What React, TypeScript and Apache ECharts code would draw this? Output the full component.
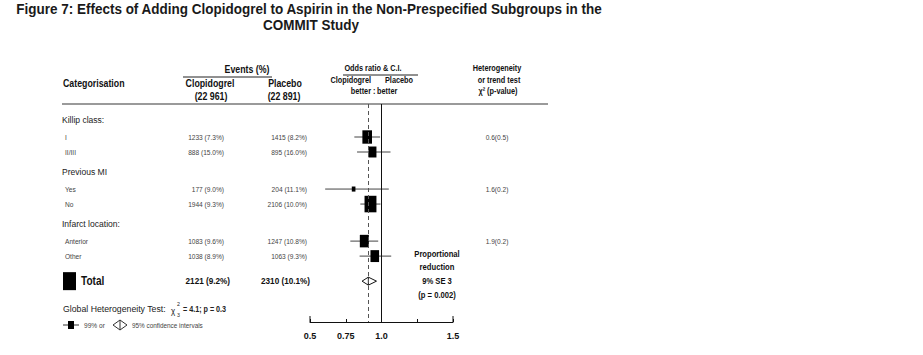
import React, { useEffect, useRef } from "react";
import * as echarts from "echarts";

// ---------- data ----------
const titleLines = [
  "Figure 7: Effects of Adding Clopidogrel to Aspirin in the Non-Prespecified Subgroups in the",
  "COMMIT Study",
];
const groupTitles = ["Killip class:", "Previous MI", "Infarct location:"];
const subgroupLabels = ["I", "II/III", "Yes", "No", "Anterior", "Other"];
const clopEvents = [1233, 888, 177, 1944, 1083, 1038];
const clopPct = ["7.3%", "15.0%", "9.0%", "9.3%", "9.6%", "8.9%"];
const placEvents = [1415, 895, 204, 2106, 1247, 1063];
const placPct = ["8.2%", "16.0%", "11.1%", "10.0%", "10.8%", "9.3%"];
const oddsRatio = [0.9, 0.937, 0.805, 0.923, 0.88, 0.953];
const ciLow = [0.81, 0.829, 0.606, 0.852, 0.782, 0.847];
const ciHigh = [0.99, 1.063, 1.051, 0.993, 0.977, 1.068];
const hetTests = ["0.6(0.5)", "1.6(0.2)", "1.9(0.2)"];
const totalClop = [2121, "9.2%"];
const totalPlac = [2310, "10.1%"];
const totalOR = [0.908, 0.864, 0.965]; // estimate, low, high
const reductionText = ["Proportional", "reduction", "9% SE 3", "(p = 0.002)"];
const axisTicks = [0.5, 0.75, 1.0, 1.25, 1.5];
const axisTickLabels = ["0.5", "0.75", "1.0", "", "1.5"];

// ---------- layout ----------
const FONT = "'Liberation Sans', Arial, sans-serif";
const GRID = { left: 310, width: 143, top: 104, height: 218 };
const Y_MIN = -1.2;
const UNIT = 15;
const Y_MAX = Y_MIN + GRID.height / UNIT;
const GROUP_STEP = 3.47;
const rowPos = (i: number) => Math.floor(i / 2) * GROUP_STEP + (i % 2) + 1;
const headerPos = (g: number) => g * GROUP_STEP - 0.15;
const totalPos = rowPos(5) + 1.67;
const py = (p: number) => GRID.top + (p - Y_MIN) * UNIT;

function txt(x: number, y: number, text: string, o: any = {}) {
  return {
    type: "text",
    x,
    y,
    scaleX: o.sx ?? 0.88,
    silent: true,
    style: {
      text,
      fontFamily: FONT,
      fontSize: o.size ?? 9,
      fontWeight: o.bold ? "bold" : "normal",
      fill: o.color ?? "#111",
      align: o.align ?? "left",
      textAlign: o.align ?? "left",
      verticalAlign: "middle",
      textVerticalAlign: "middle",
    },
  };
}

function buildGraphic() {
  const g: any[] = [];
  const H = { size: 10, bold: true, sx: 0.88 };
  const S = { size: 9.5, bold: true, sx: 0.77 };
  // title
  g.push(txt(309, 9, titleLines[0], { size: 15, bold: true, align: "center", sx: 0.9, color: "#1a1a1a" }));
  g.push(txt(311, 25, titleLines[1], { size: 15, bold: true, align: "center", sx: 0.9, color: "#1a1a1a" }));
  // headers
  g.push(txt(63, 83, "Categorisation", H));
  g.push(txt(247, 69, "Events (%)", { ...H, align: "center" }));
  g.push(txt(210, 83, "Clopidogrel", { ...H, align: "center" }));
  g.push(txt(211, 96, "(22 961)", { ...H, align: "center" }));
  g.push(txt(285, 83, "Placebo", { ...H, align: "center" }));
  g.push(txt(284, 96, "(22 891)", { ...H, align: "center" }));
  g.push(txt(373, 68, "Odds ratio & C.I.", { ...S, align: "center" }));
  g.push(txt(371, 80, "Clopidogrel", { ...S, align: "right" }));
  g.push(txt(385, 80, "Placebo", S));
  g.push(txt(371, 91, "better", { ...S, align: "right" }));
  g.push(txt(373, 91, ":", S));
  g.push(txt(377, 91, "better", S));
  g.push(txt(497, 68, "Heterogeneity", { ...S, align: "center" }));
  g.push(txt(499, 80, "or trend test", { ...S, align: "center" }));
  g.push(txt(498, 91, "\u03c7\u00b2 (p-value)", { ...S, align: "center" }));
  // underlines and rule
  g.push({ type: "line", silent: true, shape: { x1: 183, y1: 77, x2: 272, y2: 77 }, style: { stroke: "#222", lineWidth: 1 } });
  g.push({ type: "line", silent: true, shape: { x1: 343, y1: 75, x2: 418, y2: 75 }, style: { stroke: "#222", lineWidth: 1 } });
  g.push({ type: "line", silent: true, shape: { x1: 62, y1: 104, x2: 548, y2: 104 }, style: { stroke: "#9a9a9a", lineWidth: 2 } });
  // groups
  groupTitles.forEach((t, gi) => {
    g.push(txt(62, py(headerPos(gi)), t, { size: 9, color: "#222", sx: 0.95 }));
    g.push(txt(497, py(rowPos(gi * 2)), hetTests[gi], { size: 7.5, color: "#444", align: "center" }));
  });
  subgroupLabels.forEach((t, i) => {
    const y = py(rowPos(i));
    g.push(txt(65, y, t, { size: 7.5, color: "#444" }));
    g.push(txt(224, y, `${clopEvents[i]} (${clopPct[i]})`, { size: 7.5, color: "#444", align: "right" }));
    g.push(txt(307, y, `${placEvents[i]} (${placPct[i]})`, { size: 7.5, color: "#444", align: "right" }));
  });
  // total row
  const ty = py(totalPos);
  g.push({ type: "rect", silent: true, shape: { x: 63, y: ty - 9, width: 13, height: 18 }, style: { fill: "#000" } });
  g.push(txt(81, ty, "Total", { size: 12, bold: true, sx: 0.84 }));
  g.push(txt(230, ty, `${totalClop[0]} (${totalClop[1]})`, { size: 9.5, bold: true, align: "right", sx: 0.86 }));
  g.push(txt(310, ty, `${totalPlac[0]} (${totalPlac[1]})`, { size: 9.5, bold: true, align: "right", sx: 0.86 }));
  // proportional reduction
  [254, 267, 281, 295].forEach((y, i) =>
    g.push(txt(437, y, reductionText[i], { size: 9, bold: true, align: "center", sx: 0.85 }))
  );
  // global heterogeneity
  g.push(txt(63, 309, "Global Heterogeneity Test:", { size: 9, color: "#222", sx: 0.97 }));
  g.push(txt(171, 311, "\u03c7", { size: 9, color: "#222" }));
  g.push(txt(177, 304, "2", { size: 6, color: "#222" }));
  g.push(txt(177, 315, "3", { size: 6, color: "#222" }));
  g.push(txt(183, 309, "= 4.1; p = 0.3", { size: 9, bold: true, color: "#222", sx: 0.8 }));
  // legend
  g.push({ type: "line", silent: true, shape: { x1: 63, y1: 325, x2: 79, y2: 325 }, style: { stroke: "#333", lineWidth: 1 } });
  g.push({ type: "rect", silent: true, shape: { x: 68, y: 321, width: 6, height: 8 }, style: { fill: "#000" } });
  g.push(txt(84, 325, "99% or", { size: 7.5, color: "#444" }));
  g.push({ type: "polygon", silent: true, shape: { points: [[113, 325], [120, 320], [127, 325], [120, 330]] }, style: { fill: "#fff", stroke: "#333", lineWidth: 1 } });
  g.push({ type: "line", silent: true, shape: { x1: 120, y1: 320, x2: 120, y2: 330 }, style: { stroke: "#333", lineWidth: 1 } });
  g.push(txt(132, 325, "95% confidence intervals", { size: 7.5, color: "#444", sx: 0.85 }));
  return g;
}

export default function App() {
  const ref = useRef<HTMLDivElement>(null);
  useEffect(() => {
    if (!ref.current) return;
    const chart = echarts.init(ref.current, undefined, { renderer: "svg" });
    const rows = subgroupLabels.map((_, i) => [
      oddsRatio[i],
      rowPos(i),
      ciLow[i],
      ciHigh[i],
      clopEvents[i] + placEvents[i],
    ]);
    chart.setOption({
      animation: false,
      backgroundColor: "#fff",
      grid: { ...GRID, containLabel: false },
      xAxis: {
        type: "value",
        position: "bottom",
        min: axisTicks[0],
        max: axisTicks[axisTicks.length - 1],
        interval: 0.25,
        axisLine: { show: true, onZero: false, lineStyle: { color: "#111", width: 1 } },
        axisTick: { show: true, inside: true, length: 3, lineStyle: { color: "#111" } },
        splitLine: { show: false },
        axisLabel: {
          margin: 9,
          fontSize: 9,
          fontWeight: "bold",
          fontFamily: FONT,
          color: "#111",
          formatter: (v: number) => {
            const i = axisTicks.findIndex((t) => Math.abs(t - v) < 1e-6);
            return i >= 0 ? axisTickLabels[i] : "";
          },
        },
      },
      yAxis: { type: "value", inverse: true, min: Y_MIN, max: Y_MAX, show: false },
      graphic: buildGraphic(),
      series: [
        {
          type: "custom",
          name: "subgroups",
          data: rows,
          renderItem: (_p: any, api: any) => {
            const c = api.coord([api.value(0), api.value(1)]);
            const l = api.coord([api.value(2), api.value(1)]);
            const h = api.coord([api.value(3), api.value(1)]);
            const side = 0.26 * Math.sqrt(api.value(4));
            const w = side * 0.72;
            return {
              type: "group",
              children: [
                { type: "line", shape: { x1: l[0], y1: l[1], x2: h[0], y2: h[1] }, style: { stroke: "#444", lineWidth: 1 } },
                { type: "rect", shape: { x: c[0] - w / 2, y: c[1] - side / 2, width: w, height: side }, style: { fill: "#000" } },
              ],
            };
          },
          markLine: {
            silent: true,
            symbol: "none",
            label: { show: false },
            data: [
              { xAxis: 1, lineStyle: { color: "#111", width: 1, type: "solid" } },
              { xAxis: totalOR[0], lineStyle: { color: "#555", width: 1, type: [4, 3] } },
            ],
          },
        },
        {
          type: "custom",
          name: "total",
          data: [[totalOR[0], totalPos, totalOR[1], totalOR[2]]],
          renderItem: (_p: any, api: any) => {
            const c = api.coord([api.value(0), api.value(1)]);
            const l = api.coord([api.value(2), api.value(1)]);
            const h = api.coord([api.value(3), api.value(1)]);
            const hh = 4;
            return {
              type: "group",
              children: [
                { type: "polygon", shape: { points: [[l[0], l[1]], [c[0], c[1] - hh], [h[0], h[1]], [c[0], c[1] + hh]] }, style: { fill: "#fff", stroke: "#111", lineWidth: 1 } },
                { type: "line", shape: { x1: c[0], y1: c[1] - hh, x2: c[0], y2: c[1] + hh }, style: { stroke: "#111", lineWidth: 1 } },
              ],
            };
          },
        },
        {
          type: "custom",
          name: "endTicks",
          data: [[axisTicks[0], Y_MAX], [axisTicks[axisTicks.length - 1], Y_MAX]],
          renderItem: (_p: any, api: any) => {
            const c = api.coord([api.value(0), api.value(1)]);
            return { type: "line", shape: { x1: c[0], y1: c[1], x2: c[0], y2: c[1] - 6 }, style: { stroke: "#111", lineWidth: 1 } };
          },
        },
      ],
    });
    return () => chart.dispose();
  }, []);
  return (
    <div
      ref={ref}
      style={{ position: "fixed", left: 0, top: 0, width: 923, height: 355, background: "#fff" }}
    />
  );
}
